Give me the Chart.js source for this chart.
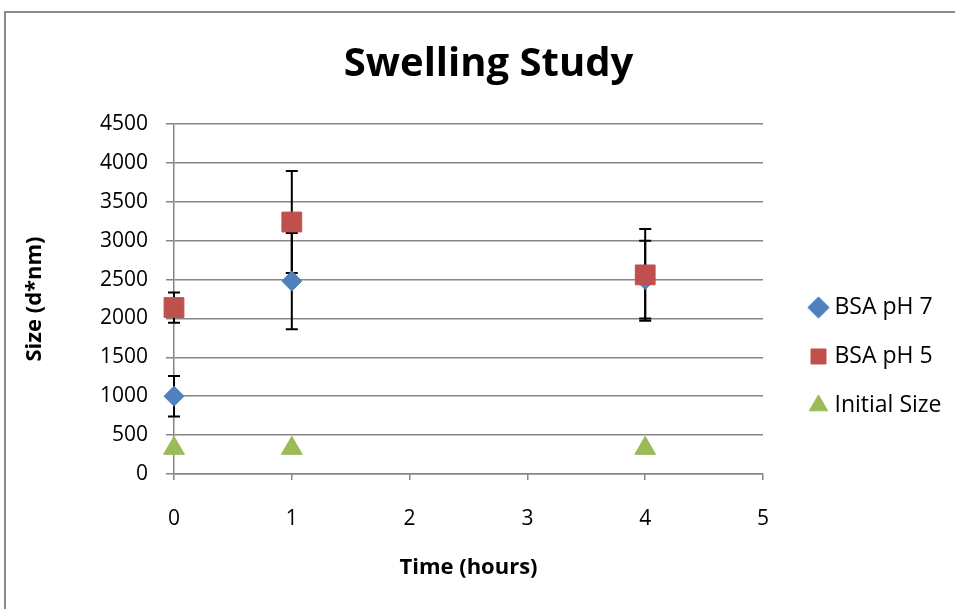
<!DOCTYPE html>
<html>
<head>
<meta charset="utf-8">
<script src="https://cdn.jsdelivr.net/npm/chart.js@4.4.1/dist/chart.umd.min.js"></script>
<style>
    body { margin: 0; background: #fff; overflow: hidden; }
    #frame { position: absolute; left: 4px; top: 11px; width: 1000px; height: 700px; border: 2px solid #8c8c8c; }
    #wrap { position: absolute; left: 0; top: 0; width: 955px; height: 609px; }
</style>
</head>
<body>
<div id="frame"></div>
<div id="wrap"><canvas id="swellingChart"></canvas></div>
<script>
// data
const times = [0, 1, 4];
const ph7Size = [1000, 2480, 2500];
const ph7Err = [260, 620, 500];
const ph5Size = [2140, 3240, 2560];
const ph5Err = [195, 655, 590];
const initialSize = [330, 330, 330];

const xTicks = [0, 1, 2, 3, 4, 5];
const yTicks = [0, 500, 1000, 1500, 2000, 2500, 3000, 3500, 4000, 4500];

const FONT = "'Open Sans', sans-serif";
const GRID = '#868686';

function toPoints(values) {
    return times.map((t, i) => ({ x: t, y: values[i] }));
}

// vertical error bars with caps, drawn under the markers
const errorBars = {
    id: 'errorBars',
    beforeDatasetsDraw(chart) {
        const ctx = chart.ctx;
        const x = chart.scales.x;
        const y = chart.scales.y;
        ctx.save();
        ctx.strokeStyle = '#000';
        ctx.lineWidth = 2;
        chart.data.datasets.forEach(ds => {
            if (!ds.errors) return;
            ds.data.forEach((pt, j) => {
                const px = x.getPixelForValue(pt.x);
                const top = y.getPixelForValue(pt.y + ds.errors[j]);
                const bot = y.getPixelForValue(pt.y - ds.errors[j]);
                ctx.beginPath();
                ctx.moveTo(px, top);
                ctx.lineTo(px, bot);
                ctx.moveTo(px - 6, top);
                ctx.lineTo(px + 6, top);
                ctx.moveTo(px - 6, bot);
                ctx.lineTo(px + 6, bot);
                ctx.stroke();
            });
        });
        ctx.restore();
    }
};

// keep the legend at a fixed width and nudge it like Excel does
const legendPlacement = {
    id: 'legendPlacement',
    afterInit(chart) {
        const lg = chart.legend;
        const fit = lg.fit.bind(lg);
        lg.fit = function () {
            fit();
            this.width = 192;
        };
    },
    afterLayout(chart) {
        const lg = chart.legend;
        lg.left += 25;
        lg.right += 25;
        lg.top += 52;
        lg.bottom += 52;
    }
};

function makeChart() {
    const ctx = document.getElementById('swellingChart');

    new Chart(ctx, {
        type: 'scatter',
        data: {
            datasets: [{
                label: 'BSA pH 7',
                data: toPoints(ph7Size),
                errors: ph7Err,
                pointStyle: 'rectRot',
                pointRadius: 10,
                backgroundColor: '#4f81bd',
                borderColor: '#4f81bd',
                borderWidth: 1,
                clip: false,
                order: 3
            }, {
                label: 'BSA pH 5',
                data: toPoints(ph5Size),
                errors: ph5Err,
                pointStyle: 'rect',
                pointRadius: 14,
                backgroundColor: '#c0504d',
                borderColor: '#c0504d',
                borderWidth: 1,
                clip: false,
                order: 2
            }, {
                label: 'Initial Size',
                data: toPoints(initialSize),
                pointStyle: 'triangle',
                pointRadius: 12,
                backgroundColor: '#9bbb59',
                borderColor: '#9bbb59',
                borderWidth: 1,
                clip: false,
                order: 1
            }]
        },
        options: {
            responsive: true,
            maintainAspectRatio: false,
            animation: false,
            events: [],
            layout: {
                padding: { left: 22, right: 0, top: 0, bottom: 0 }
            },
            plugins: {
                title: {
                    display: true,
                    text: 'Swelling Study',
                    color: '#000',
                    font: { family: FONT, size: 40, weight: 'bold' },
                    padding: { top: 41, bottom: 35 }
                },
                legend: {
                    position: 'right',
                    align: 'center',
                    labels: {
                        usePointStyle: true,
                        boxWidth: 9,
                        boxHeight: 15,
                        padding: 26,
                        color: '#000',
                        font: { family: FONT, size: 23 },
                        sort: (a, b) => a.datasetIndex - b.datasetIndex
                    }
                },
                tooltip: { enabled: false }
            },
            scales: {
                x: {
                    type: 'linear',
                    min: 0,
                    max: 5,
                    afterBuildTicks: scale => {
                        scale.ticks = xTicks.map(v => ({ value: v }));
                    },
                    afterFit: scale => {
                        scale.height = 135;
                    },
                    ticks: {
                        color: '#000',
                        padding: 26,
                        font: { family: FONT, size: 21 },
                        callback: value => String(value)
                    },
                    grid: {
                        drawOnChartArea: false,
                        drawTicks: true,
                        tickLength: 6,
                        color: GRID,
                        lineWidth: 1.5
                    },
                    border: { color: GRID, width: 1.5 },
                    title: {
                        display: true,
                        text: 'Time (hours)',
                        color: '#000',
                        font: { family: FONT, size: 22, weight: 'bold' },
                        padding: { top: 0, bottom: 28 }
                    }
                },
                y: {
                    min: 0,
                    max: 4500,
                    afterBuildTicks: scale => {
                        scale.ticks = yTicks.map(v => ({ value: v }));
                    },
                    afterFit: scale => {
                        scale.width = 152;
                    },
                    ticks: {
                        color: '#000',
                        padding: 18,
                        font: { family: FONT, size: 21 },
                        callback: value => String(value)
                    },
                    grid: {
                        color: GRID,
                        lineWidth: 1.5,
                        tickLength: 8
                    },
                    border: { color: GRID, width: 1.5 },
                    title: {
                        display: true,
                        text: 'Size (d*nm)',
                        color: '#000',
                        font: { family: FONT, size: 22, weight: 'bold' },
                        padding: 0
                    }
                }
            }
        },
        plugins: [errorBars, legendPlacement]
    });
}

document.addEventListener('DOMContentLoaded', makeChart);
</script>
</body>
</html>
